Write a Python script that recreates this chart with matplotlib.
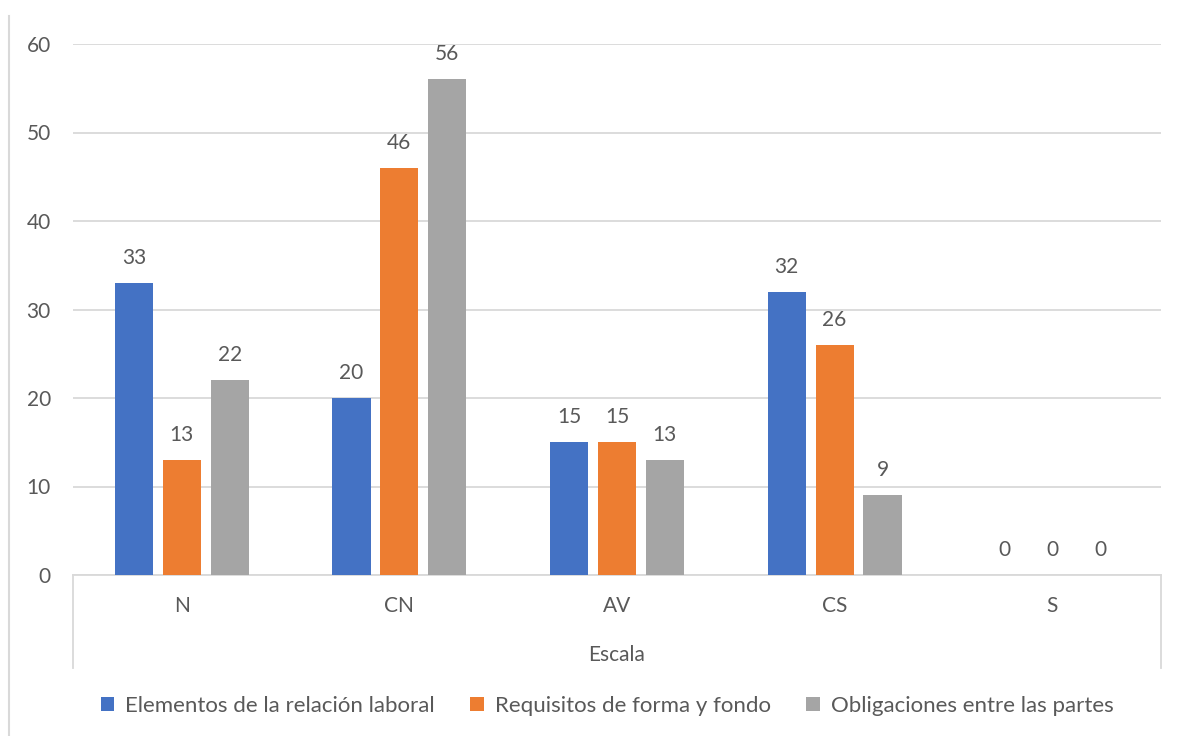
import matplotlib.pyplot as plt
from matplotlib.lines import Line2D
import numpy as np

categorias = ["N", "CN", "AV", "CS", "S"]
series = ["Elementos de la relación laboral", "Requisitos de forma y fondo", "Obligaciones entre las partes"]
elementos = [33, 20, 15, 32, 0]
requisitos = [13, 46, 15, 26, 0]
obligaciones = [22, 56, 13, 9, 0]
colores = ["#4472C4", "#ED7D31", "#A5A5A5"]

plt.rcParams['font.family'] = ['Lato', 'DejaVu Sans']
gris_texto = "#595959"
gris_linea = "#D9D9D9"
tam = 15

fig = plt.figure(figsize=(11.79, 7.36), dpi=100)
ax = fig.add_axes([73/1179, 1 - 575/736, (1161 - 73)/1179, (575 - 44)/736])

x = np.arange(len(categorias))
ancho = 0.175
paso = 0.22
valores = [elementos, requisitos, obligaciones]
for i, (nombre, vals) in enumerate(zip(series, valores)):
    pos = x + (i - 1) * paso
    ax.bar(pos, vals, width=ancho, color=colores[i], label=nombre, zorder=3)
    for px, v in zip(pos, vals):
        ax.annotate(str(v), (px, v), xytext=(0, 18), textcoords='offset points',
                    ha='center', va='center', fontsize=tam, color=gris_texto)

ax.set_xlim(-0.5, len(categorias) - 0.5)
ax.set_ylim(0, 60)
ax.set_yticks(range(0, 61, 10))
ax.yaxis.grid(True, color=gris_linea, linewidth=1.3, zorder=0)
ax.set_axisbelow(True)
for s in ['top', 'right', 'left']:
    ax.spines[s].set_visible(False)
ax.spines['bottom'].set_color(gris_linea)
ax.spines['bottom'].set_linewidth(1.3)
ax.tick_params(axis='both', length=0, labelsize=tam, labelcolor=gris_texto)
ax.tick_params(axis='y', pad=16)
ax.tick_params(axis='x', pad=15)
ax.set_xticks(x)
ax.set_xticklabels(categorias)

# separadores verticales del eje de categorias
for xp in [73, 1161]:
    fig.add_artist(Line2D([xp/1179, xp/1179], [1 - 575/736, 1 - 668/736],
                          color=gris_linea, linewidth=1.3))
# borde izquierdo del grafico
fig.add_artist(Line2D([9/1179, 9/1179], [1 - 16/736, 0], color=gris_linea, linewidth=1.5))

fig.text(617/1179, 1 - 655/736, "Escala", ha='center', va='center', fontsize=tam, color=gris_texto)

leg = fig.legend(loc='center', bbox_to_anchor=(607/1179, 1 - 706/736), ncol=3, frameon=False,
                 fontsize=tam + 1, handlelength=0.6, handleheight=0.6, handletextpad=0.5,
                 columnspacing=1.6, labelcolor=gris_texto)

plt.savefig('out.png', dpi=100)
